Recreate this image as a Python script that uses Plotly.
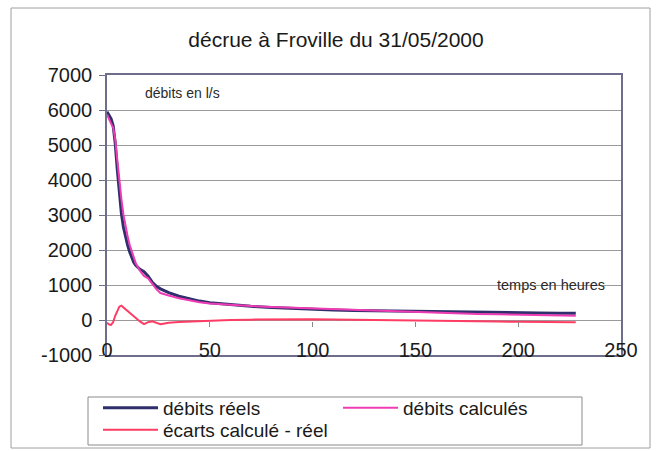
import plotly.graph_objects as go

# Recession of the flow at Froville, 31/05/2000 (time in hours, flows in l/s)
heures = [0, 1, 2, 3, 4, 5, 6, 7, 8, 9, 10, 11, 12, 13, 14, 16, 18, 20, 22, 24,
          26, 28, 30, 35, 40, 45, 50, 55, 60, 70, 80, 90, 100, 110, 120, 130,
          140, 150, 160, 170, 180, 190, 200, 210, 220, 228]

debits_reels = [5950, 5850, 5750, 5550, 5050, 4300, 3600, 3050, 2650, 2350,
                2150, 1950, 1800, 1650, 1560, 1450, 1380, 1250, 1080, 960,
                890, 830, 780, 680, 600, 540, 490, 460, 430, 390, 355, 325,
                300, 285, 270, 260, 250, 240, 230, 225, 215, 210, 205, 200,
                195, 190]

debits_calcules = [5870, 5720, 5610, 5490, 5170, 4580, 3980, 3460, 3010, 2650,
                   2400, 2150, 1960, 1760, 1620, 1410, 1260, 1190, 1040, 880,
                   770, 730, 700, 620, 555, 510, 475, 455, 430, 400, 375, 355,
                   325, 300, 275, 260, 240, 220, 200, 190, 175, 165, 155, 145,
                   135, 125]

ecarts = [-80, -130, -140, -60, 120, 280, 380, 410, 360, 300, 250, 200, 160,
          110, 60, -40, -120, -60, -40, -80, -120, -100, -80, -60, -45, -30,
          -15, -5, 0, 10, 20, 30, 25, 15, 5, 0, -10, -20, -30, -35, -40, -45,
          -50, -55, -60, -65]

x_ticks = [0, 50, 100, 150, 200, 250]
y_ticks = [-1000, 0, 1000, 2000, 3000, 4000, 5000, 6000, 7000]

FONT = "Liberation Sans, Arial, sans-serif"
INK = "#1a1a1a"

fig = go.Figure()
fig.add_trace(go.Scatter(x=heures, y=debits_reels, mode="lines", name="débits réels",
                         line=dict(color="#2e2f6c", width=3), legend="legend"))
fig.add_trace(go.Scatter(x=heures, y=debits_calcules, mode="lines", name="débits calculés",
                         line=dict(color="#f03cb4", width=2), legend="legend"))
fig.add_trace(go.Scatter(x=heures, y=ecarts, mode="lines", name="écarts calculé - réel",
                         line=dict(color="#ff3c64", width=2), legend="legend2"))
# carrier for the small tick marks drawn along the zero line
fig.add_trace(go.Scatter(x=[], y=[], xaxis="x2", showlegend=False, hoverinfo="skip"))

# Plot area in pixels: left 107, right 621, top 75, bottom 355
W, H = 657, 451
L, R, T, B = 107, 621, 75, 355


def px_x(p):
    return (p - L) / (R - L)


def px_y(p):
    return (B - p) / (B - T)


legend_common = dict(orientation="h", xanchor="left", yanchor="middle",
                     borderwidth=0, bgcolor="rgba(0,0,0,0)",
                     font=dict(size=19, family=FONT, color=INK),
                     entrywidth=170, itemwidth=55)

fig.update_layout(
    width=W, height=H,
    margin=dict(l=L, r=W - R, t=T, b=H - B, autoexpand=False),
    paper_bgcolor="white", plot_bgcolor="white",
    font=dict(family=FONT, color=INK),
    title=dict(text="décrue à Froville du 31/05/2000", x=336 / W, xref="container",
               xanchor="center", y=1 - 40 / H, yref="container", yanchor="middle",
               font=dict(size=21, family=FONT, color=INK)),
    showlegend=True,
    legend=dict(x=px_x(98), y=px_y(408), **legend_common),
    legend2=dict(x=px_x(98), y=px_y(430), **legend_common),
    xaxis=dict(range=[0, 250], tickvals=x_ticks, ticktext=[str(v) for v in x_ticks],
               showgrid=False, zeroline=False, showline=True, mirror=True,
               linecolor="#6e6e8c", linewidth=1.5, ticks="",
               ticklabelstandoff=-24,
               tickfont=dict(size=20, family=FONT, color=INK)),
    yaxis=dict(range=[-1000, 7000], tickvals=y_ticks, ticktext=[str(v) for v in y_ticks],
               showgrid=True, gridcolor="#9a9a9a", gridwidth=1, zeroline=False,
               showline=True, mirror=True, linecolor="#6e6e8c", linewidth=1.5,
               ticks="outside", ticklen=6, tickcolor="#6e6e8c",
               ticklabelstandoff=3,
               tickfont=dict(size=20, family=FONT, color=INK)),
    xaxis2=dict(overlaying="x", anchor="free", position=px_y(321), side="bottom",
                range=[0, 250], tickvals=x_ticks[1:-1], ticks="outside", ticklen=5,
                tickcolor="#8a8a8a", showticklabels=False, showline=False,
                showgrid=False, zeroline=False),
)

fig.add_annotation(text="débits en l/s", x=px_x(182), y=px_y(93), xref="paper", yref="paper",
                   xanchor="center", yanchor="middle", showarrow=False,
                   font=dict(size=14, family=FONT, color="#2a2a2a"))
fig.add_annotation(text="temps en heures", x=px_x(551), y=px_y(285), xref="paper", yref="paper",
                   xanchor="center", yanchor="middle", showarrow=False,
                   font=dict(size=14.5, family=FONT, color="#2a2a2a"))

# frame around the legend entries
fig.add_shape(type="rect", xref="paper", yref="paper",
              x0=px_x(88), x1=px_x(582), y0=px_y(445), y1=px_y(397),
              line=dict(color="#8a8a8a", width=1), layer="below")

# outer frame of the chart
fig.add_shape(type="rect", xref="paper", yref="paper",
              x0=px_x(11), x1=px_x(650), y0=px_y(448), y1=px_y(8),
              line=dict(color="#a0a0a0", width=1), layer="below")

fig.write_html("out.html")
